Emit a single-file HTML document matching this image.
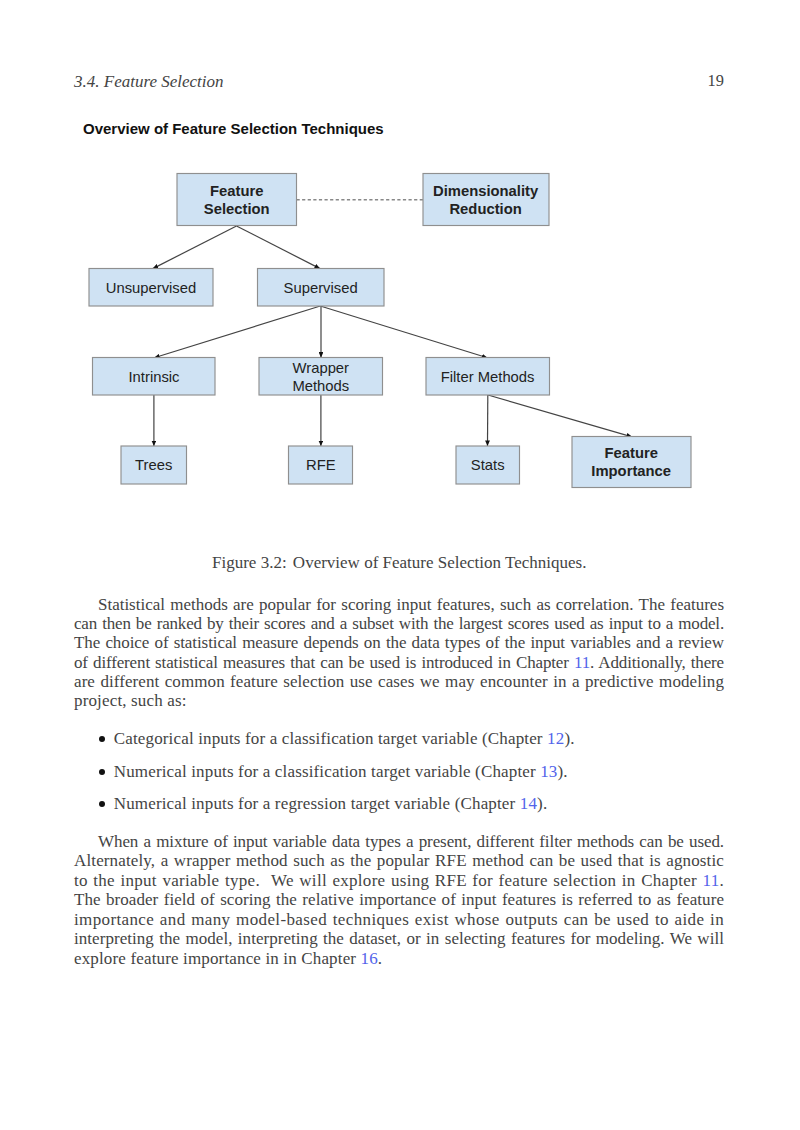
<!DOCTYPE html>
<html>
<head>
<meta charset="utf-8">
<style>
html,body{margin:0;padding:0;background:#fff;}
body{width:800px;height:1130px;position:relative;overflow:hidden;font-family:"Liberation Serif",serif;color:#444;}
.a{position:absolute;white-space:nowrap;}
.hdr{font-style:italic;font-size:17px;}
.ln{position:absolute;left:74px;width:650px;font-size:17px;line-height:20px;letter-spacing:0.15px;white-space:nowrap;text-align:justify;text-align-last:justify;}
.ln.last{text-align:left;text-align-last:left;}
.lk{color:#5264ea;}
.bul{position:absolute;left:99px;width:6px;height:6px;border-radius:50%;background:#111;}
svg{position:absolute;left:0;top:0;}
svg text{font-family:"Liberation Sans",sans-serif;font-size:14.8px;fill:#222;}
.bx{font-family:"Liberation Sans",sans-serif;}
</style>
</head>
<body>
<div class="a hdr" id="hdr" style="left:74px;top:71.5px;">3.4. Feature Selection</div>
<div class="a" id="pn" style="left:707.6px;top:71.1px;font-size:16.4px;">19</div>

<div class="a" id="ftitle" style="left:83px;top:120px;font-family:'Liberation Sans',sans-serif;font-weight:bold;font-size:15px;color:#111;">Overview of Feature Selection Techniques</div>

<svg width="800" height="520" viewBox="0 0 800 520">
<defs><marker id="ah" viewBox="0 0 10 10" refX="10" refY="5" markerWidth="5.5" markerHeight="4.8" markerUnits="userSpaceOnUse" orient="auto" preserveAspectRatio="none"><path d="M0,0 L10,5 L0,10 z" fill="#111"/></marker></defs>
<line x1="296.5" y1="199.8" x2="423" y2="199.8" stroke="#888" stroke-width="1.4" stroke-dasharray="3.2 2.4"/>
<line x1="236.5" y1="226" x2="152.8" y2="268.6" stroke="#444" stroke-width="1.2" marker-end="url(#ah)"/>
<line x1="236.5" y1="226" x2="320" y2="268.6" stroke="#444" stroke-width="1.2" marker-end="url(#ah)"/>
<line x1="320.3" y1="306" x2="154.2" y2="357.8" stroke="#444" stroke-width="1.2" marker-end="url(#ah)"/>
<line x1="321" y1="306" x2="321" y2="357.5" stroke="#444" stroke-width="1.2" marker-end="url(#ah)"/>
<line x1="320.3" y1="306" x2="487.3" y2="357.8" stroke="#444" stroke-width="1.2" marker-end="url(#ah)"/>
<line x1="153.9" y1="395" x2="153.9" y2="446" stroke="#444" stroke-width="1.2" marker-end="url(#ah)"/>
<line x1="320.9" y1="395" x2="320.9" y2="446" stroke="#444" stroke-width="1.2" marker-end="url(#ah)"/>
<line x1="487.8" y1="395" x2="487.5" y2="446" stroke="#444" stroke-width="1.2" marker-end="url(#ah)"/>
<line x1="488" y1="395" x2="632" y2="436.8" stroke="#444" stroke-width="1.2" marker-end="url(#ah)"/>
<rect x="177" y="173.5" width="119.5" height="52.0" fill="#cfe2f3" stroke="#8f8f8f" stroke-width="1.15"/>
<rect x="423" y="173.5" width="126" height="52.0" fill="#cfe2f3" stroke="#8f8f8f" stroke-width="1.15"/>
<rect x="89" y="268.5" width="124" height="37.5" fill="#cfe2f3" stroke="#8f8f8f" stroke-width="1.15"/>
<rect x="257.5" y="268.5" width="126.5" height="37.5" fill="#cfe2f3" stroke="#8f8f8f" stroke-width="1.15"/>
<rect x="92.5" y="357.5" width="122.5" height="37.5" fill="#cfe2f3" stroke="#8f8f8f" stroke-width="1.15"/>
<rect x="259" y="357.5" width="123.5" height="37.5" fill="#cfe2f3" stroke="#8f8f8f" stroke-width="1.15"/>
<rect x="426" y="357.5" width="123.5" height="37.5" fill="#cfe2f3" stroke="#8f8f8f" stroke-width="1.15"/>
<rect x="121" y="446" width="65.5" height="38" fill="#cfe2f3" stroke="#8f8f8f" stroke-width="1.15"/>
<rect x="288.5" y="446" width="64.0" height="38" fill="#cfe2f3" stroke="#8f8f8f" stroke-width="1.15"/>
<rect x="456" y="446" width="63.5" height="38" fill="#cfe2f3" stroke="#8f8f8f" stroke-width="1.15"/>
<rect x="572" y="436.5" width="119" height="51.0" fill="#cfe2f3" stroke="#8f8f8f" stroke-width="1.15"/>
<text x="236.7" y="196.2" text-anchor="middle" font-weight="bold">Feature</text>
<text x="236.7" y="213.9" text-anchor="middle" font-weight="bold">Selection</text>
<text x="485.6" y="196.2" text-anchor="middle" font-weight="bold">Dimensionality</text>
<text x="485.6" y="213.9" text-anchor="middle" font-weight="bold">Reduction</text>
<text x="151" y="293.4" text-anchor="middle">Unsupervised</text>
<text x="320.6" y="293.4" text-anchor="middle">Supervised</text>
<text x="154" y="381.9" text-anchor="middle">Intrinsic</text>
<text x="320.8" y="373.1" text-anchor="middle">Wrapper</text>
<text x="320.8" y="390.6" text-anchor="middle">Methods</text>
<text x="487.6" y="381.7" text-anchor="middle">Filter Methods</text>
<text x="153.75" y="470.3" text-anchor="middle">Trees</text>
<text x="320.8" y="470.3" text-anchor="middle">RFE</text>
<text x="487.7" y="470.3" text-anchor="middle">Stats</text>
<text x="631.2" y="458.1" text-anchor="middle" font-weight="bold">Feature</text>
<text x="631.2" y="475.6" text-anchor="middle" font-weight="bold">Importance</text>
</svg>

<div class="a" id="cap" style="left:212px;top:552.8px;font-size:17px;">Figure 3.2:<span style="display:inline-block;width:2px"></span> Overview of Feature Selection Techniques.</div>

<div class="ln" style="letter-spacing:-0.010px;top:594.70px;left:98px;width:626px;">Statistical methods are popular for scoring input features, such as correlation. The features</div>
<div class="ln" style="letter-spacing:-0.179px;top:614.00px;">can then be ranked by their scores and a subset with the largest scores used as input to a model.</div>
<div class="ln" style="letter-spacing:-0.083px;top:633.30px;">The choice of statistical measure depends on the data types of the input variables and a review</div>
<div class="ln" style="letter-spacing:-0.143px;top:652.60px;">of different statistical measures that can be used is introduced in Chapter <span class="lk">11</span>. Additionally, there</div>
<div class="ln" style="letter-spacing:0.083px;top:671.90px;">are different common feature selection use cases we may encounter in a predictive modeling</div>
<div class="ln last" style="top:691.20px;">project, such as:</div>
<div class="bul" style="top:736.10px;"></div>
<div class="ln last" style="top:729.20px;left:113.75px;width:600px;">Categorical inputs for a classification target variable (Chapter <span class="lk">12</span>).</div>
<div class="bul" style="top:768.85px;"></div>
<div class="ln last" style="top:761.60px;left:113.75px;width:600px;">Numerical inputs for a classification target variable (Chapter <span class="lk">13</span>).</div>
<div class="bul" style="top:801.35px;"></div>
<div class="ln last" style="top:794.20px;left:113.75px;width:600px;">Numerical inputs for a regression target variable (Chapter <span class="lk">14</span>).</div>
<div class="ln" style="letter-spacing:-0.080px;top:831.65px;left:98px;width:626px;">When a mixture of input variable data types a present, different filter methods can be used.</div>
<div class="ln" style="letter-spacing:0.137px;top:851.15px;">Alternately, a wrapper method such as the popular RFE method can be used that is agnostic</div>
<div class="ln" style="letter-spacing:0.29px;top:870.65px;">to the input variable type. &nbsp;We will explore using RFE for feature selection in Chapter <span class="lk">11</span>.</div>
<div class="ln" style="letter-spacing:0.062px;top:890.15px;">The broader field of scoring the relative importance of input features is referred to as feature</div>
<div class="ln" style="letter-spacing:0.37px;top:909.65px;">importance and many model-based techniques exist whose outputs can be used to aide in</div>
<div class="ln" style="letter-spacing:0.047px;top:929.15px;">interpreting the model, interpreting the dataset, or in selecting features for modeling. We will</div>
<div class="ln last" style="top:948.65px;">explore feature importance in in Chapter <span class="lk">16</span>.</div>
</body>
</html>
